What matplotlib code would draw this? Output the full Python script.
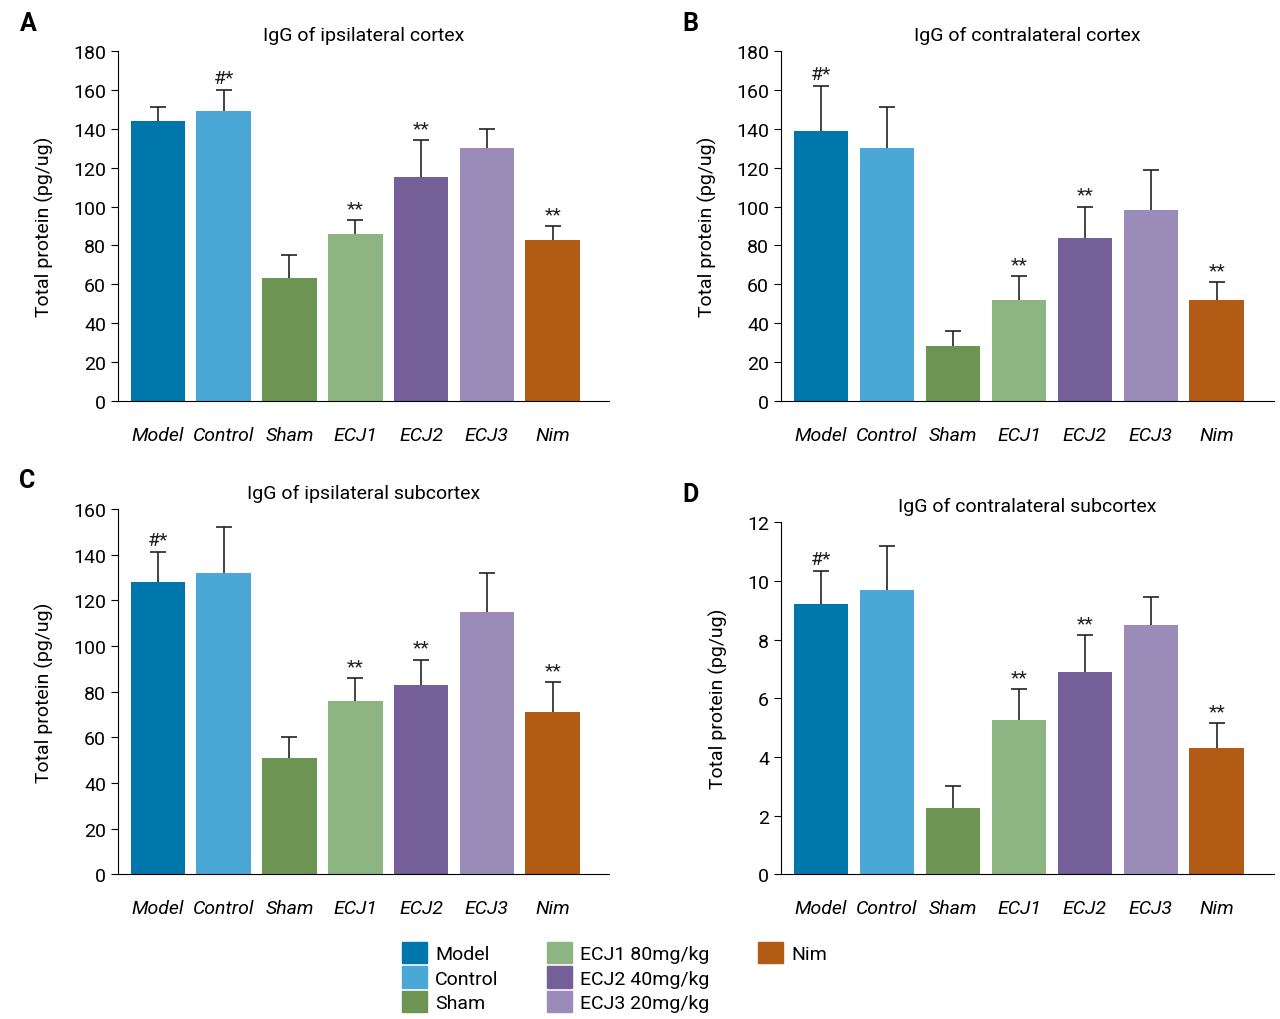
import matplotlib.pyplot as plt
import numpy as np

plt.rcParams['font.family'] = ['Roboto', 'DejaVu Sans']

groups = ['Model', 'Control', 'Sham', 'ECJ1', 'ECJ2', 'ECJ3', 'Nim']
legend_labels = ['Model', 'Control', 'Sham', 'ECJ1 80mg/kg', 'ECJ2 40mg/kg', 'ECJ3 20mg/kg', 'Nim']
colors = ['#0077AA', '#4BA8D6', '#6E9454', '#8DB581', '#755F98', '#9A8BB8', '#B25B14']

ipsi_cortex = [144, 149, 63, 86, 115, 130, 83]
ipsi_cortex_err = [7, 11, 12, 7, 19, 10, 7]
contra_cortex = [139, 130, 28, 52, 84, 98, 52]
contra_cortex_err = [23, 21, 8, 12, 16, 21, 9]
ipsi_sub = [128, 132, 51, 76, 83, 115, 71]
ipsi_sub_err = [13, 20, 9, 10, 11, 17, 13]
contra_sub = [9.2, 9.7, 2.25, 5.25, 6.9, 8.5, 4.3]
contra_sub_err = [1.15, 1.5, 0.75, 1.05, 1.25, 0.95, 0.85]

panels = [
    ('A', 'IgG of ipsilateral cortex', ipsi_cortex, ipsi_cortex_err, 180, 20,
     {1: '#*', 3: '**', 4: '**', 6: '**'}, [0.092, 0.606, 0.384, 0.343]),
    ('B', 'IgG of contralateral cortex', contra_cortex, contra_cortex_err, 180, 20,
     {0: '#*', 3: '**', 4: '**', 6: '**'}, [0.61, 0.606, 0.385, 0.343]),
    ('C', 'IgG of ipsilateral subcortex', ipsi_sub, ipsi_sub_err, 160, 20,
     {0: '#*', 3: '**', 4: '**', 6: '**'}, [0.092, 0.142, 0.384, 0.358]),
    ('D', 'IgG of contralateral subcortex', contra_sub, contra_sub_err, 12, 2,
     {0: '#*', 3: '**', 4: '**', 6: '**'}, [0.61, 0.142, 0.385, 0.345]),
]

fig = plt.figure(figsize=(12.8, 10.2), dpi=100)
x = np.arange(len(groups))
for letter, title, vals, errs, ymax, step, stars, rect in panels:
    ax = fig.add_axes(rect)
    ax.bar(x, vals, width=0.83, color=colors, zorder=2)
    tops = np.array(vals) + np.array(errs)
    ax.vlines(x, vals, tops, color='#222222', lw=1.2, zorder=3)
    ax.plot(x, tops, ls='none', marker='_', ms=12, mew=1.2, color='#222222', zorder=3)
    for i, s in stars.items():
        ax.text(x[i], tops[i] + ymax * 0.008, s, ha='center', va='bottom',
                fontsize=14, color='#222222')
    ax.set_xlim(-0.61, 6.86)
    ax.set_ylim(0, ymax)
    ax.set_yticks(np.arange(0, ymax + step / 2, step))
    ax.tick_params(axis='y', labelsize=14, direction='out', length=5)
    ax.set_xticks(x)
    ax.set_xticklabels(groups, fontsize=14, style='italic')
    ax.tick_params(axis='x', length=0, pad=18)
    for sp in ['top', 'right']:
        ax.spines[sp].set_visible(False)
    ax.set_ylabel('Total protein (pg/ug)', fontsize=14, labelpad=14)
    ax.set_title(title, fontsize=14, pad=8)
    ax.text(-0.2, 1.08, letter, transform=ax.transAxes, fontsize=18,
            fontweight='bold', ha='left', va='center')

handles = [plt.Rectangle((0, 0), 1, 1, color=c) for c in colors]
fig.legend(handles + [plt.Rectangle((0, 0), 1, 1, alpha=0)] * 2,
           legend_labels + ['', ''],
           loc='lower center', bbox_to_anchor=(0.48, -0.01), ncol=3, frameon=False,
           fontsize=14, handlelength=1.3, handleheight=1.3, labelspacing=0.15,
           columnspacing=2.5, handletextpad=0.4)
fig.savefig('out.png', dpi=100)
